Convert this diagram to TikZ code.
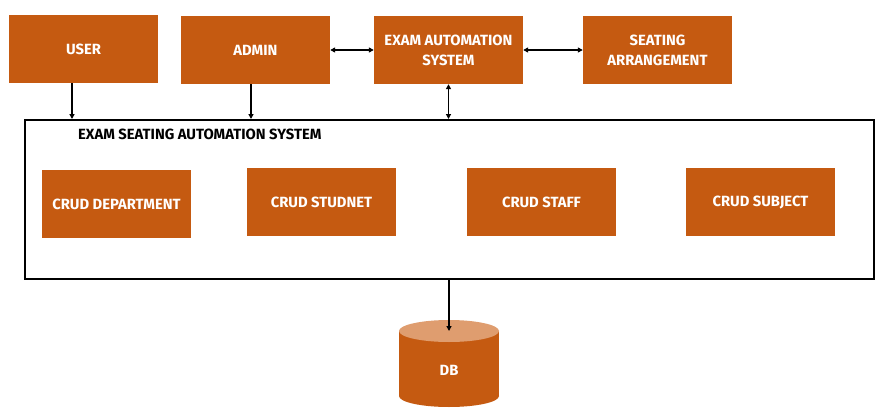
\documentclass[tikz,border=0pt]{standalone}
\usepackage{fontspec}
\setmainfont{Fira Sans}
\usetikzlibrary{arrows.meta}
\definecolor{boxorange}{HTML}{C55A11}
\definecolor{toporange}{HTML}{DF9D6F}
\begin{document}
\begin{tikzpicture}[x=1pt,y=-1pt,
  lbl/.style={font=\bfseries\fontsize{14.8}{20}\selectfont},
  obox/.style={lbl, fill=boxorange, draw=none, minimum width=149pt, minimum height=68pt,
    text=white, align=center, inner sep=0pt},
  conn/.style={line width=1.8pt, -{Triangle[length=5pt,width=5pt]}},
  bconn/.style={line width=1.8pt, {Triangle[length=5pt,width=5pt]}-{Triangle[length=5pt,width=5pt]}}]
\useasboundingbox (0,0) rectangle (892,415);
% top row
\node[obox] (user) at (83.5,49) {USER};
\node[obox] (admin) at (255.5,50) {ADMIN};
\node[obox] (eas) at (448.5,50) {EXAM AUTOMATION\\SYSTEM};
\node[obox] (seat) at (657.5,50) {SEATING\\ARRANGEMENT};
% big system box
\node[draw=black, line width=2pt, minimum width=849pt, minimum height=159pt, inner sep=0pt] (sys) at (449.5,199.5) {};
\node[lbl, anchor=west, inner sep=0pt] (title) at (78,134.5) {EXAM SEATING AUTOMATION SYSTEM};
% crud boxes
\node[obox] (dept) at (116.5,204) {CRUD DEPARTMENT};
\node[obox] (stud) at (321.5,202) {CRUD STUDNET};
\node[obox] (staff) at (541.5,202) {CRUD STAFF};
\node[obox] (subj) at (760.5,202) {CRUD SUBJECT};
% DB cylinder
\fill[boxorange] (399,331) rectangle (499,396);
\fill[boxorange] (449,396) ellipse [x radius=50pt, y radius=11pt];
\fill[toporange] (449,331) ellipse [x radius=50pt, y radius=11pt];
\coordinate (dbtop) at (449,331);
\node[lbl, text=white, inner sep=0pt] (db) at (449,370) {DB};
% connectors
\draw[conn] (user.south -| 72,0) -- (sys.north -| 72,0);
\draw[conn] (admin.south -| 251,0) -- (sys.north -| 251,0);
\draw[bconn] (eas.south) -- (sys.north -| eas.south);
\draw[bconn] (admin.east) -- (eas.west);
\draw[bconn] (eas.east) -- (seat.west);
\draw[conn] (sys.south -| dbtop) -- (dbtop);
\end{tikzpicture}
\end{document}
